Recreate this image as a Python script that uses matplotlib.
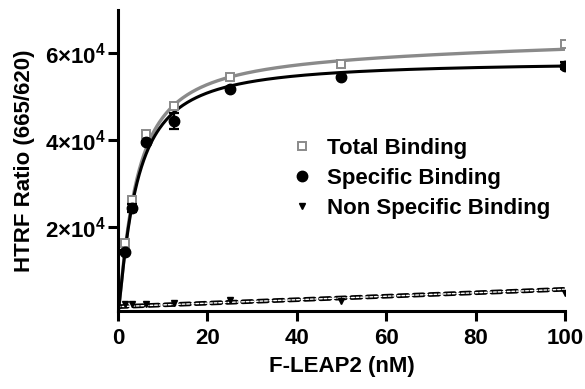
import numpy as np
import matplotlib
matplotlib.use("Agg")
import matplotlib.pyplot as plt
from matplotlib.lines import Line2D

# F-LEAP2 concentration (nM)
conc = [1.5625, 3.125, 6.25, 12.5, 25, 50, 100]

total = [16300, 26200, 41500, 48000, 54500, 57600, 62200]
total_err = [400, 900, 300, 600, 300, 300, 700]
specific = [14250, 24400, 39500, 44400, 51900, 54600, 57200]
specific_err = [500, 1000, 400, 1800, 300, 300, 800]
nonspecific = [2240, 2240, 2240, 2600, 3200, 3000, 4900]

# fitted curve parameters
spec_bmax, spec_kd, spec_h = 58300, 4.0, 1.2
tot_bmax, tot_kd, tot_h, tot_ns = 60000, 4.0, 1.2, 22.0
ns_slope, ns_bg = 40.0, 1700.0

yticks = [20000, 40000, 60000]
ytick_labels = [r"$\mathbf{2{\times}10^{4}}$", r"$\mathbf{4{\times}10^{4}}$",
                r"$\mathbf{6{\times}10^{4}}$"]
xticks = [0, 20, 40, 60, 80, 100]

GRAY = "#8a8a8a"
FS = 16
plt.rcParams["font.family"] = ["Liberation Sans", "DejaVu Sans"]
plt.rcParams["font.weight"] = "bold"
plt.rcParams["mathtext.fontset"] = "custom"
plt.rcParams["mathtext.rm"] = "Liberation Sans:bold"
plt.rcParams["mathtext.bf"] = "Liberation Sans:bold"


def hill(x, bmax, kd, h):
    return bmax * x**h / (kd**h + x**h)


fig = plt.figure(figsize=(5.85, 3.89), dpi=100)
W, H = 585, 389
ax = fig.add_axes([118 / W, (H - 311) / H, (565 - 118) / W, (311 - 10) / H])

xs = np.linspace(0, 100, 400)
ax.plot(xs, hill(xs, tot_bmax, tot_kd, tot_h) + tot_ns * xs,
        color=GRAY, lw=2.4, zorder=2)
ax.plot(xs, hill(xs, spec_bmax, spec_kd, spec_h), color="black", lw=2.2, zorder=3)

ns_line = ns_bg + ns_slope * xs
ax.plot(xs, ns_line, color="black", lw=3.4, dashes=(2.0, 1.3),
        dash_capstyle="round", zorder=2)
ax.plot(xs, ns_line, color="white", lw=1.0, dashes=(2.0, 1.3),
        dash_capstyle="round", zorder=2)

ax.errorbar(conc, total, yerr=total_err, fmt="s", ms=6, mfc="white",
            mec=GRAY, mew=1.4, ecolor=GRAY, elinewidth=1.4, capsize=3,
            capthick=1.4, zorder=4)
ax.errorbar(conc, specific, yerr=specific_err, fmt="o", ms=7.5, color="black",
            elinewidth=1.6, capsize=3.5, capthick=1.6, zorder=5)
ax.plot(conc, nonspecific, "v", ms=4.5, color="black", zorder=5)

ax.set_xlim(0, 100)
ax.set_ylim(700, 70000)
ax.set_xticks(xticks)
ax.set_yticks(yticks)
ax.set_yticklabels(ytick_labels)
ax.tick_params(axis="both", width=2.2, length=7, labelsize=FS)
ax.tick_params(axis="x", pad=5)
ax.tick_params(axis="y", pad=2)
for lab in ax.get_xticklabels() + ax.get_yticklabels():
    lab.set_fontweight("bold")

for side in ["top", "right"]:
    ax.spines[side].set_visible(False)
for side in ["left", "bottom"]:
    ax.spines[side].set_linewidth(2.2)

ax.set_xlabel("F-LEAP2 (nM)", fontsize=FS, fontweight="bold", labelpad=5)
ax.set_ylabel("HTRF Ratio (665/620)", fontsize=FS, fontweight="bold", labelpad=7)

handles = [
    Line2D([], [], ls="none", marker="s", ms=6, mfc="white", mec=GRAY, mew=1.4),
    Line2D([], [], ls="none", marker="o", ms=7.5, color="black"),
    Line2D([], [], ls="none", marker="v", ms=4.5, color="black"),
]
labels = ["Total Binding", "Specific Binding", "Non Specific Binding"]
leg = ax.legend(handles, labels, loc="upper left", frameon=False,
                bbox_to_anchor=(271 / W, (H - 118) / H),
                bbox_transform=fig.transFigure,
                handlelength=1.0, handletextpad=0.6, labelspacing=0.4,
                prop={"weight": "bold", "size": FS})

fig.savefig("out.png", dpi=100)
